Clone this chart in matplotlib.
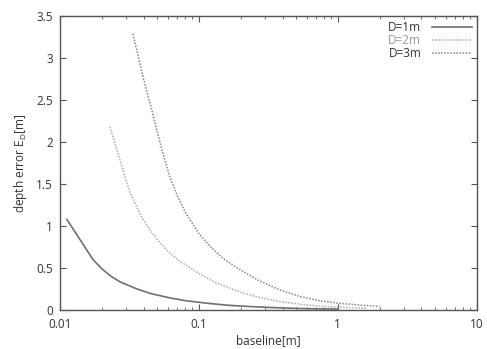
import matplotlib
matplotlib.use("Agg")
import matplotlib.pyplot as plt
from matplotlib.ticker import FixedLocator, FixedFormatter, LogLocator, NullFormatter

# values
baseline_d1 = [0.0112, 0.0173, 0.020, 0.0229, 0.027, 0.0358, 0.045, 0.0619, 0.08,
               0.114, 0.16, 0.233, 0.35, 0.5, 0.7, 1.0]
error_d1 = [1.08, 0.60, 0.49, 0.41, 0.335, 0.25, 0.195, 0.143, 0.11,
            0.08, 0.056, 0.04, 0.027, 0.018, 0.013, 0.01]

baseline_d2 = [0.0229, 0.027, 0.0319, 0.0389, 0.0450, 0.0507, 0.0607, 0.0729, 0.101,
               0.13, 0.20, 0.27, 0.38, 0.52, 0.74, 1.1, 1.6]
error_d2 = [2.18, 1.79, 1.40, 1.10, 0.94, 0.83, 0.69, 0.58, 0.43,
            0.33, 0.21, 0.15, 0.10, 0.07, 0.045, 0.03, 0.02]

baseline_d3 = [0.0335, 0.040, 0.0459, 0.0498, 0.055, 0.0619, 0.07, 0.08, 0.101,
               0.12, 0.15, 0.1975, 0.27, 0.38, 0.52, 0.74, 1.0, 1.4, 2.0]
error_d3 = [3.29, 2.75, 2.38, 2.14, 1.87, 1.58, 1.36, 1.16, 0.90,
            0.76, 0.61, 0.48, 0.35, 0.24, 0.165, 0.11, 0.08, 0.06, 0.04]

labels = ["D=1m", "D=2m", "D=3m"]
xticks = [0.01, 0.1, 1, 10]
xticklabels = ["0.01", "0.1", "1", "10"]
yticks = [0, 0.5, 1, 1.5, 2, 2.5, 3, 3.5]
yticklabels = ["0", "0.5", "1", "1.5", "2", "2.5", "3", "3.5"]

plt.rcParams["font.family"] = ["Open Sans", "DejaVu Sans"]
plt.rcParams["mathtext.default"] = "regular"

fig = plt.figure(figsize=(4.87, 3.49), dpi=100)
ax = fig.add_axes([0.123, 0.112, 0.856, 0.842])

ax.plot(baseline_d1, error_d1, color="#707070", lw=1.2, ls="-", label=labels[0])
ax.plot(baseline_d2, error_d2, color="#ababab", lw=1.1, ls=(0, (1, 1)), label=labels[1])
ax.plot(baseline_d3, error_d3, color="#858585", lw=1.1, ls=(0, (1, 1)), label=labels[2])

ax.set_xscale("log")
ax.set_xlim(0.01, 10)
ax.set_ylim(0, 3.5)
ax.xaxis.set_major_locator(FixedLocator(xticks))
ax.xaxis.set_major_formatter(FixedFormatter(xticklabels))
ax.xaxis.set_minor_locator(LogLocator(base=10, subs=range(2, 10)))
ax.xaxis.set_minor_formatter(NullFormatter())
ax.yaxis.set_major_locator(FixedLocator(yticks))
ax.yaxis.set_major_formatter(FixedFormatter(yticklabels))

ax.tick_params(which="both", direction="in", top=True, right=True,
               labelsize=8.5, colors="#555555", labelcolor="#333333")
ax.tick_params(which="major", length=4, width=0.8)
ax.tick_params(which="minor", length=2, width=0.6)
ax.tick_params(axis="x", which="major", pad=6)
ax.tick_params(axis="y", which="major", pad=5)
for s in ax.spines.values():
    s.set_color("#555555")
    s.set_linewidth(1.0)

ax.set_xlabel("baseline[m]", fontsize=8.5, color="#333333", labelpad=2)
ax.set_ylabel("depth error E$_D$[m]", fontsize=8.5, color="#333333", labelpad=5)

leg = ax.legend(loc="upper right", frameon=False, fontsize=8.5, markerfirst=False,
                handlelength=3.4, labelspacing=0.0, borderaxespad=0.1, handletextpad=0.9,
                borderpad=0.3)
for t, c in zip(leg.get_texts(), ["#333333", "#999999", "#333333"]):
    t.set_color(c)

fig.savefig("out.png", dpi=100, facecolor="white")
